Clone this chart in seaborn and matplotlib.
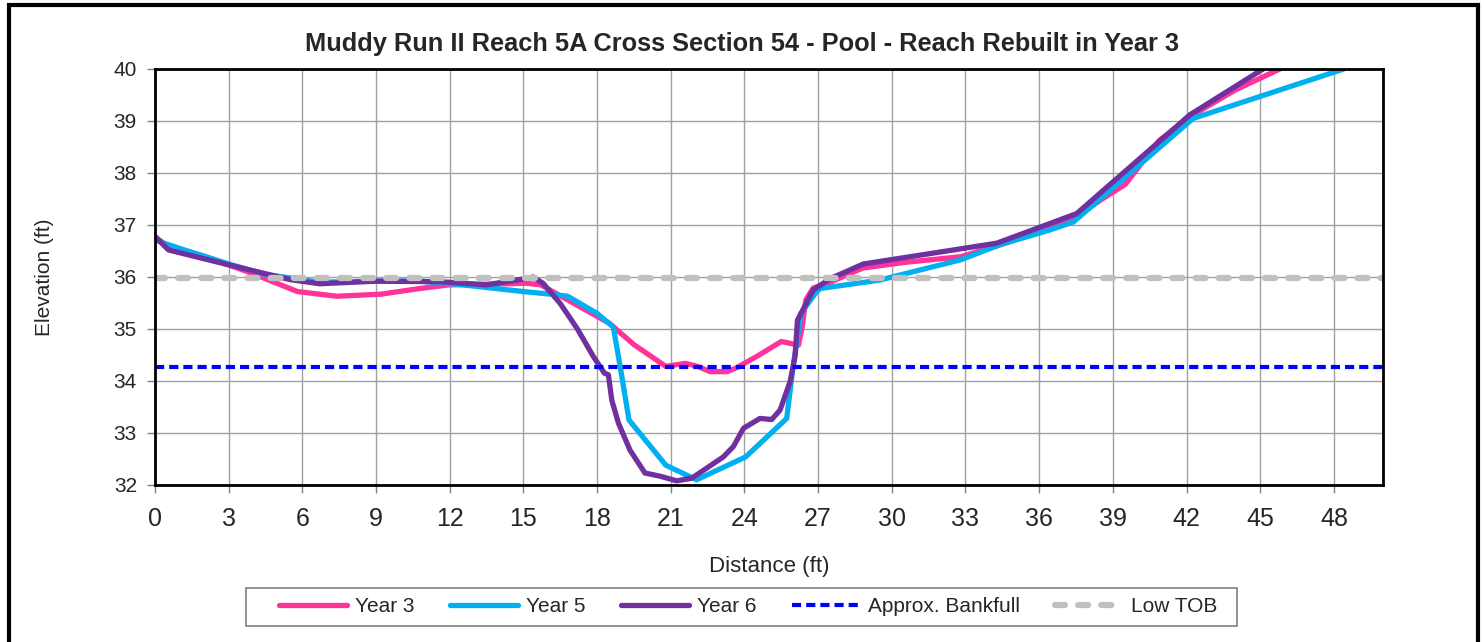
import numpy as np
import pandas as pd
import matplotlib.pyplot as plt
import seaborn as sns
from matplotlib.patches import Rectangle

# Cross section survey data (distance ft, elevation ft)
year3_x = [0, 0.5, 2, 3.9, 5.8, 7.4, 9.2, 10.8, 12.0, 13.5, 15.1, 15.7, 16.8, 18.5, 19.5,
           20.8, 21.6, 22.1, 22.6, 23.3, 23.7, 24.6, 25.5, 26.2, 26.35, 26.5, 26.8, 27.4,
           28.8, 30.5, 32.8, 34.3, 36.4, 37.4, 38.5, 39.5, 40.9, 42.2, 44.0, 45.8]
year3_y = [36.77, 36.6, 36.4, 36.08, 35.72, 35.63, 35.67, 35.78, 35.85, 35.86, 35.88, 35.85,
           35.56, 35.11, 34.7, 34.28, 34.34, 34.28, 34.18, 34.18, 34.26, 34.5, 34.76, 34.69,
           35.04, 35.56, 35.79, 35.88, 36.17, 36.28, 36.39, 36.6, 36.95, 37.12, 37.48, 37.78,
           38.63, 39.1, 39.6, 40.0]

year5_x = [0, 1, 3, 4.5, 6.7, 9, 10.8, 12.5, 15.0, 16.1, 16.8, 18.0, 18.66, 18.95, 19.3,
           20.8, 22.05, 24.05, 25.72, 25.98, 26.3, 26.94, 27.1, 29.5, 32.8, 34.4, 36.4,
           37.4, 42.27, 48.4]
year5_y = [36.71, 36.55, 36.25, 36.05, 35.9, 35.92, 35.92, 35.85, 35.72, 35.67, 35.63, 35.3,
           35.04, 34.25, 33.25, 32.38, 32.1, 32.54, 33.28, 34.27, 35.3, 35.72, 35.78, 35.94,
           36.33, 36.62, 36.9, 37.06, 39.05, 40.0]

year6_x = [0, 0.55, 2, 3.9, 5.5, 6.7, 9, 11.6, 13.5, 15.1, 15.4, 15.8, 16.5, 17.2, 17.85,
           18.3, 18.46, 18.6, 18.87, 19.34, 19.95, 20.56, 21.24, 21.85, 23.14, 23.55, 23.96,
           24.63, 25.11, 25.45, 25.86, 26.06, 26.16, 26.8, 27.5, 28.84, 34.27, 37.53, 42.14,
           45.12]
year6_y = [36.78, 36.52, 36.35, 36.13, 35.95, 35.87, 35.92, 35.91, 35.85, 35.97, 36.0, 35.88,
           35.49, 35.0, 34.47, 34.15, 34.12, 33.63, 33.19, 32.67, 32.23, 32.17, 32.08, 32.13,
           32.54, 32.74, 33.09, 33.28, 33.26, 33.44, 33.99, 34.47, 35.17, 35.75, 35.97, 36.25,
           36.65, 37.22, 39.12, 40.0]

bankfull_x = [0, 50]
bankfull_y = [34.27, 34.27]
tob_x = [0, 50]
tob_y = [35.98, 35.98]

sns.set_style("whitegrid", {"grid.color": "#a0a0a0", "axes.edgecolor": "black"})
plt.rcParams["font.family"] = ["Liberation Sans", "DejaVu Sans"]

fig = plt.figure(figsize=(14.84, 6.42), dpi=100)
ax = fig.add_axes([155 / 1484, 1 - 485 / 642, (1383 - 155) / 1484, (485 - 69) / 642])

sns.lineplot(x=year3_x, y=year3_y, sort=False, estimator=None, ax=ax,
             color="#FF3399", linewidth=3.8, label="Year 3")
sns.lineplot(x=year5_x, y=year5_y, sort=False, estimator=None, ax=ax,
             color="#00B0F0", linewidth=3.8, label="Year 5")
sns.lineplot(x=year6_x, y=year6_y, sort=False, estimator=None, ax=ax,
             color="#7030A0", linewidth=3.8, label="Year 6")
sns.lineplot(x=bankfull_x, y=bankfull_y, sort=False, estimator=None, ax=ax,
             color="#0000FF", linewidth=3, label="Approx. Bankfull")
sns.lineplot(x=tob_x, y=tob_y, sort=False, estimator=None, ax=ax,
             color="#C0C0C0", linewidth=4.5, label="Low TOB")
ax.lines[3].set_linestyle((0, (2.2, 1.2)))
ax.lines[4].set_linestyle((0, (1.6, 2.1)))
ax.lines[4].set_dash_capstyle("round")

ax.set_xlim(0, 50)
ax.set_ylim(32, 40)
ax.set_xticks(np.arange(0, 49, 3))
ax.set_yticks(np.arange(32, 41, 1))
ax.tick_params(axis="both", length=6, width=1, color="#808080", bottom=True, left=True)
ax.tick_params(axis="x", labelsize=18, pad=10)
ax.tick_params(axis="y", labelsize=15, pad=7)
ax.grid(True, color="#a0a0a0", linewidth=1)
for s in ax.spines.values():
    s.set_color("black")
    s.set_linewidth(2)

ax.set_xlabel("Distance (ft)", fontsize=16, labelpad=18)
ax.set_ylabel("Elevation (ft)", fontsize=15, labelpad=43)

fig.suptitle("Muddy Run II Reach 5A Cross Section 54 - Pool - Reach Rebuilt in Year 3",
             fontsize=18.3, fontweight="bold", x=0.5, y=1 - 44 / 642, va="center")

handles, labels = ax.get_legend_handles_labels()
ax.get_legend().remove()
leg = fig.legend(handles, labels, ncol=5, loc="center", bbox_to_anchor=(748 / 1484, 1 - 607 / 642),
                 fontsize=15, frameon=False, handlelength=3.3, columnspacing=1.7,
                 handletextpad=0.35)

# legend box and chart area border
fig.patches.append(Rectangle((246 / 1484, 1 - 626 / 642), (1237 - 246) / 1484, 38 / 642,
                             transform=fig.transFigure, fill=False, edgecolor="#808080",
                             linewidth=1.2))
fig.patches.append(Rectangle((9 / 1484, -0.2), (1478 - 9) / 1484, 1.2 - 5 / 642,
                             transform=fig.transFigure, fill=False, edgecolor="black",
                             linewidth=3))

fig.savefig("out.png", dpi=100)
